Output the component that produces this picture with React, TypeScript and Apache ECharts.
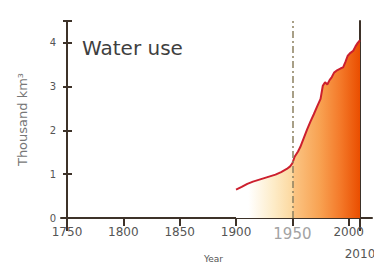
import React, { useEffect, useRef } from "react";
import * as echarts from "echarts";

const years = [1900, 1905, 1910, 1915, 1920, 1925, 1930, 1935, 1940, 1945, 1948, 1950, 1952, 1955, 1957, 1960, 1963, 1966, 1969, 1972, 1975, 1977, 1979, 1981, 1983, 1985, 1987, 1990, 1993, 1995, 1997, 1999, 2001, 2004, 2006, 2008, 2010];
const waterUse = [0.65, 0.71, 0.78, 0.83, 0.87, 0.91, 0.95, 0.99, 1.05, 1.12, 1.18, 1.25, 1.4, 1.52, 1.62, 1.82, 2.02, 2.2, 2.37, 2.55, 2.72, 3.02, 3.1, 3.05, 3.15, 3.22, 3.32, 3.38, 3.42, 3.44, 3.56, 3.7, 3.76, 3.82, 3.92, 4.0, 4.06];
const xTicks = { min: 1750, max: 2010, interval: 50 };
const yTicks = { min: 0, max: 4.5, interval: 1 };
const markYear = 1950;
const titleText = "Water use";
const xName = "Year";
const yName = "Thousand km³";

const AXIS = "#3d3229";
const FONT = "DejaVu Sans";

export default function App() {
  const ref = useRef<HTMLDivElement>(null);
  useEffect(() => {
    if (!ref.current) return;
    const chart = echarts.init(ref.current, undefined, { renderer: "svg" });
    const grid0 = { left: 67, right: 14, top: 21, bottom: 48, outerBoundsMode: "none", containLabel: false };
    chart.setOption({
      animation: false,
      title: {
        text: titleText,
        left: 82,
        top: 38,
        padding: 0,
        textStyle: { fontSize: 20, fontWeight: "normal", color: "#3f3f3f", fontFamily: FONT },
      },
      grid: [grid0, { left: 61, right: 2, top: 21, bottom: 48, outerBoundsMode: "none", containLabel: false }],
      xAxis: [
        {
          gridIndex: 0,
          type: "value",
          position: "bottom",
          min: xTicks.min,
          max: xTicks.max,
          interval: xTicks.interval,
          axisLine: { show: false },
          axisTick: { show: true, inside: false, length: 8, lineStyle: { color: AXIS, width: 2 } },
          splitLine: { show: false },
          axisLabel: {
            margin: 8,
            hideOverlap: false,
            formatter: (v: number) =>
              v === 2010 ? "{l|2010}" : v === markYear ? "{h|" + v + "}" : "{n|" + v + "}",
            rich: {
              n: { fontSize: 12, color: "#555", fontFamily: FONT },
              h: { fontSize: 15, color: "#a3a3a3", fontFamily: FONT },
              l: { fontSize: 12, color: "#555", fontFamily: FONT, padding: [22, 0, 0, 0] },
            },
          },
          name: xName,
          nameLocation: "middle",
          nameGap: 36,
          nameMoveOverlap: false,
          nameTextStyle: { fontSize: 9, color: "#555", fontFamily: FONT },
        },
        {
          gridIndex: 0,
          type: "value",
          position: "top",
          min: xTicks.min,
          max: xTicks.max,
          axisLine: { show: true, lineStyle: { color: AXIS, width: 2 } },
          axisTick: { show: false },
          axisLabel: { show: false },
          splitLine: { show: false },
        },
        {
          gridIndex: 0,
          type: "value",
          position: "bottom",
          min: xTicks.min,
          max: xTicks.max,
          interval: xTicks.max - xTicks.min,
          axisLine: { show: false },
          axisTick: { show: true, length: 13, lineStyle: { color: AXIS, width: 2 } },
          axisLabel: { show: false },
          splitLine: { show: false },
        },
        {
          gridIndex: 1,
          type: "value",
          position: "bottom",
          min: 0,
          max: 1,
          axisLine: { show: true, lineStyle: { color: AXIS, width: 2 } },
          axisTick: { show: false },
          axisLabel: { show: false },
          splitLine: { show: false },
        },
      ],
      yAxis: [
        {
          gridIndex: 0,
          type: "value",
          position: "left",
          min: yTicks.min,
          max: yTicks.max,
          interval: yTicks.interval,
          axisLine: { show: true, lineStyle: { color: AXIS, width: 2 } },
          axisTick: { show: true, inside: false, length: 4, lineStyle: { color: AXIS, width: 2 } },
          splitLine: { show: false },
          axisLabel: {
            margin: 11,
            fontSize: 10,
            color: "#555",
            fontFamily: FONT,
            formatter: (v: number) => (Number.isInteger(v) ? String(v) : ""),
          },
          name: yName,
          nameLocation: "middle",
          nameGap: 38,
          nameMoveOverlap: false,
          nameTextStyle: { fontSize: 13, color: "#777", fontFamily: FONT },
        },
        {
          gridIndex: 0,
          type: "value",
          position: "left",
          min: yTicks.min,
          max: yTicks.max,
          interval: yTicks.interval,
          axisLine: { show: false },
          axisTick: { show: true, inside: true, length: 5, lineStyle: { color: AXIS, width: 2 } },
          axisLabel: { show: false },
          splitLine: { show: false },
        },
        {
          gridIndex: 0,
          type: "value",
          position: "right",
          min: yTicks.min,
          max: yTicks.max,
          axisLine: { show: true, lineStyle: { color: AXIS, width: 2 } },
          axisTick: { show: false },
          axisLabel: { show: false },
          splitLine: { show: false },
        },
        {
          gridIndex: 1,
          type: "value",
          show: false,
          min: 0,
          max: 1,
        },
      ],
      series: [
        {
          type: "line",
          xAxisIndex: 0,
          yAxisIndex: 0,
          data: years.map((y, i) => [y, waterUse[i]]),
          showSymbol: false,
          symbol: "none",
          lineStyle: { color: "#cc1f2e", width: 2 },
          areaStyle: {
            opacity: 1,
            color: new echarts.graphic.LinearGradient(0, 0, 1, 0, [
              { offset: 0, color: "#ffffff" },
              { offset: 0.1, color: "#ffffff" },
              { offset: 0.31, color: "#fdebc6" },
              { offset: 0.455, color: "#fcd89f" },
              { offset: 0.465, color: "#fbc584" },
              { offset: 0.675, color: "#f8a252" },
              { offset: 0.84, color: "#f47a2a" },
              { offset: 1, color: "#ea4e00" },
            ]),
          },
          markLine: {
            silent: true,
            symbol: ["none", "none"],
            label: { show: false },
            lineStyle: { color: "#8c8060", width: 1.5, type: [7, 3, 2, 3] },
            data: [{ xAxis: markYear }],
          },
          z: 1,
        },
      ],
    });
    return () => chart.dispose();
  }, []);
  return (
    <div
      ref={ref}
      style={{ position: "fixed", left: 0, top: 0, width: 374, height: 266, background: "#fff" }}
    />
  );
}
